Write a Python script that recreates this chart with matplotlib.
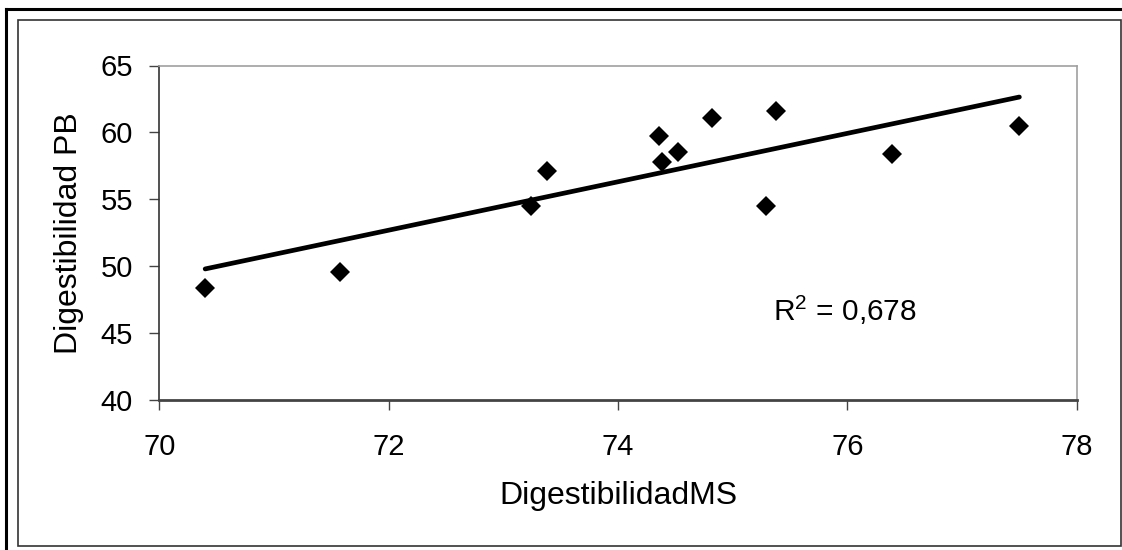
import matplotlib
matplotlib.use("Agg")
import matplotlib.pyplot as plt
import numpy as np
from matplotlib.lines import Line2D
from matplotlib.patches import Rectangle

plt.rcParams['font.family'] = ['Liberation Sans', 'DejaVu Sans']
plt.rcParams['mathtext.fontset'] = 'custom'
plt.rcParams['mathtext.rm'] = 'Liberation Sans'

# datos
dig_ms = [70.40, 71.58, 73.24, 73.38, 74.36, 74.38, 74.52, 74.82, 75.29, 75.38, 76.39, 77.50]
dig_pb = [48.40, 49.57, 54.50, 57.09, 59.72, 57.78, 58.53, 61.07, 54.50, 61.57, 58.38, 60.47]
r2_text = "R$^{2}$ = 0,678"
x_ticks = [70, 72, 74, 76, 78]
y_ticks = [40, 45, 50, 55, 60, 65]

W, H = 1122, 550
fig = plt.figure(figsize=(W / 100, H / 100), dpi=100)

# marcos exteriores
fig.add_artist(Line2D([6 / W, 1], [1 - 9 / H, 1 - 9 / H], transform=fig.transFigure, color='black', lw=2.2))
fig.add_artist(Line2D([6 / W, 6 / W], [0, 1 - 9 / H], transform=fig.transFigure, color='black', lw=2.2))
fig.add_artist(Rectangle((17.5 / W, 1 - 546 / H), (1120.5 - 17.5) / W, (546 - 19.5) / H,
                         transform=fig.transFigure, fill=False, edgecolor='#333333', lw=1.2))

ax = fig.add_axes([159.3 / W, 1 - 400 / H, (1076.7 - 159.3) / W, (400 - 65.5) / H])

# línea de tendencia (mínimos cuadrados)
coef = np.polyfit(dig_ms, dig_pb, 1)
xl = np.array([min(dig_ms), max(dig_ms)])
ax.plot(xl, np.polyval(coef, xl), color='black', lw=3.4, solid_capstyle='round', zorder=2)

ax.plot(dig_ms, dig_pb, linestyle='none', marker='D', ms=10, color='black', mew=0, zorder=3)

ax.set_xlim(70, 78)
ax.set_ylim(40, 65)
ax.set_xticks(x_ticks)
ax.set_yticks(y_ticks)
ax.tick_params(axis='both', direction='out', length=7, width=1, color='#444444', labelsize=21)
ax.tick_params(axis='y', pad=12)
ax.tick_params(axis='x', pad=17)

for s in ['top', 'right']:
    ax.spines[s].set_color('#a0a0a0')
    ax.spines[s].set_linewidth(1.2)
ax.spines['left'].set_color('#333333')
ax.spines['left'].set_linewidth(1.2)
ax.spines['bottom'].set_color('#444444')
ax.spines['bottom'].set_linewidth(2)

ax.set_xlabel('DigestibilidadMS', fontsize=23, labelpad=14)
ax.set_ylabel('Digestibilidad PB', fontsize=23, labelpad=12)

ax.text(0.6686, 0.237, r2_text, transform=ax.transAxes, fontsize=21.5, ha='left', va='baseline')

fig.savefig('out.png', dpi=100)
